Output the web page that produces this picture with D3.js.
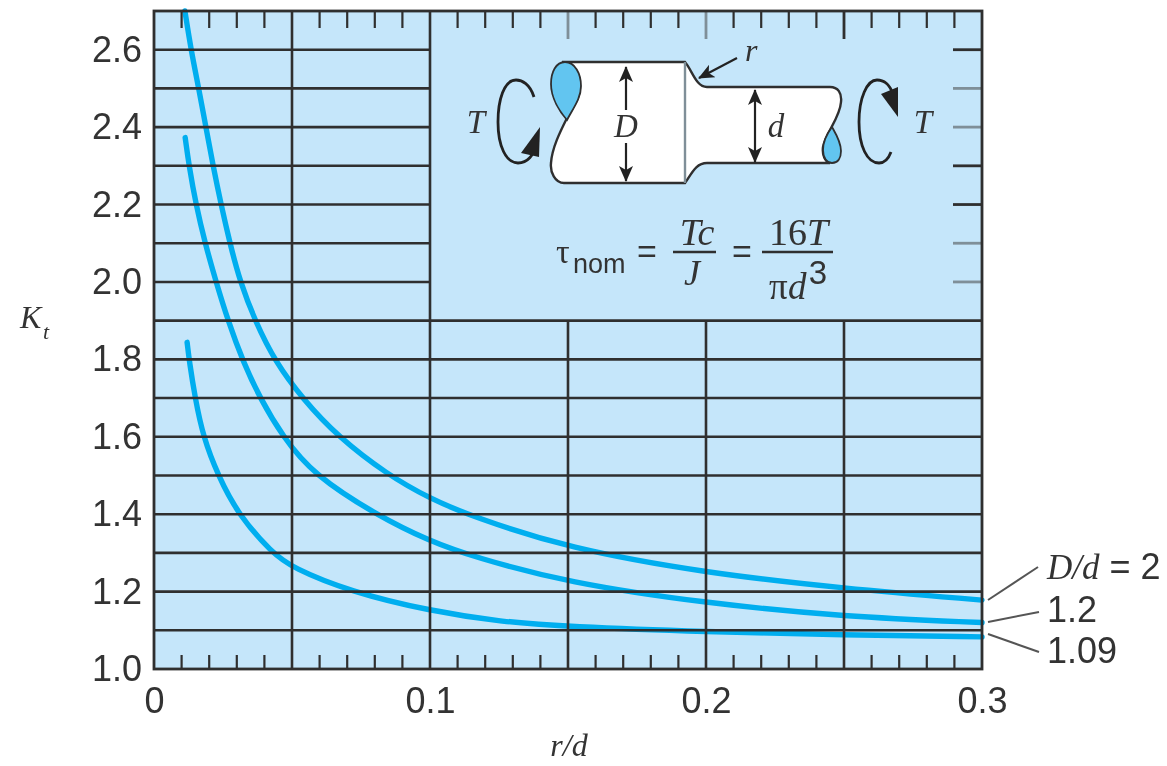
<!DOCTYPE html>
<html><head><meta charset="utf-8">
<script src="https://cdn.jsdelivr.net/npm/d3@7/dist/d3.min.js"></script>
<style>
html,body{margin:0;padding:0;background:#fff;overflow:hidden}
svg{display:block;filter:blur(0.7px)}
text{fill:#333}
.sans{font-family:"Liberation Sans",Arial,sans-serif}
.serif{font-family:"Liberation Serif",serif;font-style:italic}
</style></head><body>
<svg id="c" width="1167" height="766"></svg>
<script>
// Data: [r/d, Kt]
const curveD2 = [[.0112,2.70],[.0134,2.6],[.0163,2.497],[.0188,2.4],[.0214,2.3],[.0243,2.2],[.0275,2.1],[.0312,2.0],[.0366,1.9],[.0438,1.795],[.054,1.697],[.0667,1.6],[.0844,1.503],[.1,1.44],[.1156,1.393],[.15,1.312],[.2,1.248],[.25,1.208],[.3,1.178]];
const curve12 = [[.0113,2.373],[.0127,2.3],[.0152,2.2],[.0185,2.1],[.0225,2.0],[.0268,1.9],[.0322,1.795],[.0384,1.7],[.0467,1.6],[.0576,1.503],[.0808,1.397],[.1,1.33],[.1156,1.29],[.15,1.223],[.2,1.17],[.25,1.135],[.3,1.12]];
const curve109 = [[.012,1.844],[.0128,1.795],[.0149,1.7],[.0178,1.6],[.0232,1.5],[.0304,1.4],[.0428,1.3],[.05,1.262],[.071,1.2],[.1,1.15],[.1257,1.122],[.15,1.109],[.2,1.096],[.25,1.088],[.3,1.083]];
const seriesLabels = ["D/d = 2","1.2","1.09"];
const xTickLabels = [0,0.1,0.2,0.3];
const yTickLabels = [1.0,1.2,1.4,1.6,1.8,2.0,2.2,2.4,2.6];
const xMinor = [.01,.02,.03,.04,.06,.07,.08,.09,.11,.12,.13,.14,.16,.17,.18,.19,.21,.22,.23,.24,.26,.27,.28,.29];
const xMajorFull = [.05,.1];
const xMajorLow = [.15,.2,.25];
const yGridFull = [1.1,1.2,1.3,1.4,1.5,1.6,1.7,1.8,1.9];
const yGridShort = [2.0,2.1,2.2,2.3,2.4,2.5,2.6];
const topLong = [.15,.2,.25];
const rightTicks = [2.0,2.1,2.2,2.3,2.4,2.5,2.6];
const faintTop = [.15,.2];
const faintRight = [2.0,2.1,2.4,2.5];

const svg = d3.select("#c");
const x = d3.scaleLinear().domain([0,.3]).range([154,982]);
const y = d3.scaleLinear().domain([1,2.7]).range([669,11]);
const INK="#2f2f2f", FAINT="#7f8f98", BG="#c5e6fa", BLUE="#00aeef", LOBE="#62c5f0";

svg.append("rect").attr("x",x(0)).attr("y",y(2.7)).attr("width",x(.3)-x(0)).attr("height",y(1)-y(2.7)).attr("fill",BG);

const line = d3.line().x(d=>x(d[0])).y(d=>y(d[1])).curve(d3.curveBasis);
svg.append("g").attr("fill","none").attr("stroke",BLUE).attr("stroke-width",5.4).attr("stroke-linecap","round")
  .selectAll("path").data([curveD2,curve12,curve109]).join("path").attr("d",line);

const g = svg.append("g").attr("stroke",INK);
const hl=(data,x2)=>g.append("g").attr("stroke-width",2.6).selectAll("line").data(data).join("line")
  .attr("x1",x(0)).attr("x2",x2).attr("y1",y).attr("y2",y);
hl(yGridFull,x(.3)); hl(yGridShort,x(.1));
const vl=(data,y2,w)=>g.append("g").attr("stroke-width",w).selectAll("line").data(data).join("line")
  .attr("x1",x).attr("x2",x).attr("y1",y(1)).attr("y2",y2);
vl(xMajorFull,y(2.7),2.6); vl(xMajorLow,y(1.9),2.6);
g.append("g").attr("stroke-width",2.2).selectAll("line").data(xMinor).join("line")
  .attr("x1",x).attr("x2",x).attr("y1",y(1)).attr("y2",y(1)-14);
g.append("g").attr("stroke-width",2.2).selectAll("line").data(xMinor).join("line")
  .attr("x1",x).attr("x2",x).attr("y1",y(2.7)).attr("y2",y(2.7)+17);
g.append("g").attr("stroke-width",2.8).selectAll("line").data(topLong).join("line")
  .attr("x1",x).attr("x2",x).attr("y1",y(2.7)).attr("y2",y(2.7)+28)
  .attr("stroke",d=>faintTop.includes(d)?FAINT:INK);
g.append("g").attr("stroke-width",2.8).selectAll("line").data(rightTicks).join("line")
  .attr("x1",x(.3)-29).attr("x2",x(.3)).attr("y1",y).attr("y2",y)
  .attr("stroke",d=>faintRight.includes(d)?FAINT:INK);
g.append("rect").attr("x",x(0)).attr("y",y(2.7)).attr("width",x(.3)-x(0)).attr("height",y(1)-y(2.7))
  .attr("fill","none").attr("stroke-width",2.8);

// axis labels
const xa = svg.append("g").attr("transform",`translate(0,${y(1)})`)
  .call(d3.axisBottom(x).tickValues(xTickLabels).tickSize(0).tickPadding(18).tickFormat(d=>d===0?"0":d3.format(".1f")(d)));
const ya = svg.append("g").attr("transform",`translate(${x(0)},0)`)
  .call(d3.axisLeft(y).tickValues(yTickLabels).tickSize(0).tickPadding(12).tickFormat(d3.format(".1f")));
[xa,ya].forEach(a=>{a.select(".domain").remove();
  a.selectAll("text").attr("class","sans").attr("font-size",36).attr("fill","#3a3a3a").style("font-family",'"Liberation Sans"');});

const txt=(s,px,py,cls,size,anchor="start")=>svg.append("text").attr("class",cls).attr("x",px).attr("y",py)
  .attr("font-size",size).attr("text-anchor",anchor).text(s);

txt("K",20,328,"serif",32); txt("t",43,339,"serif",22);
txt("r/d",569,756,"serif",32,"middle");

// series labels with leaders
const l0 = svg.append("text").attr("x",1047).attr("y",579).attr("font-size",36).attr("class","sans");
l0.append("tspan").attr("class","serif").attr("font-size",35).text(seriesLabels[0].split(" = ")[0]);
l0.append("tspan").text(" = "+seriesLabels[0].split(" = ")[1]);
txt(seriesLabels[1],1047,622,"sans",36);
txt(seriesLabels[2],1047,663,"sans",36);
const leaders=[[.3,600,1038,567],[.3,622,1039,612],[.3,634,1039,652]];
svg.append("g").attr("stroke","#555").attr("stroke-width",2).selectAll("line").data(leaders).join("line")
  .attr("x1",d=>x(d[0])+6).attr("y1",d=>d[1]).attr("x2",d=>d[2]).attr("y2",d=>d[3]);

// shaft diagram
const dg = svg.append("g");
dg.append("path").attr("fill","#fff").attr("stroke",INK).attr("stroke-width",2.4)
  .attr("d","M562,62 L685,62 C692,70 696,87 707,87 L830,87 C838,87 842,93 841,102 C840,118 826,132 823,147 C822,155 825,162 830,163 L707,163 C696,163 692,173 685,183 L564,183 C555,183 550,172 551,163 C552,148 560,132 567,118 C574,105 580,98 580,88 C580,74 574,62 562,62 Z");
dg.append("path").attr("fill",LOBE).attr("stroke",INK).attr("stroke-width",1.8)
  .attr("d","M565,62 C556,62 551,72 551,84 C551,98 560,112 567,120 C574,107 581,98 581,86 C581,74 575,62 565,62 Z");
dg.append("path").attr("fill",LOBE).attr("stroke",INK).attr("stroke-width",1.8)
  .attr("d","M832,127 C826,135 823,142 823,150 C823,158 827,163 832,163 C838,163 841,158 841,151 C841,142 836,134 832,127 Z");
dg.append("line").attr("x1",685).attr("x2",685).attr("y1",62).attr("y2",183).attr("stroke",FAINT).attr("stroke-width",2.4);

dg.append("defs").append("marker").attr("id","ah").attr("viewBox","0 0 16 14").attr("refX",15).attr("refY",7)
  .attr("markerWidth",17).attr("markerHeight",14).attr("markerUnits","userSpaceOnUse").attr("orient","auto")
  .append("path").attr("d","M0,0 L16,7 L0,14 L4,7 Z").attr("fill","#222");
const arrow=(a,b,c,d)=>dg.append("line").attr("x1",a).attr("y1",b).attr("x2",c).attr("y2",d)
  .attr("stroke","#222").attr("stroke-width",2.2).attr("marker-end","url(#ah)");
arrow(626,110,626,67); arrow(626,143,626,181);
arrow(755,126,755,90); arrow(755,126,755,162);
arrow(737,58,699,78);
txt("r",745,61,"serif",32);
txt("D",626,137,"serif",33,"middle");
txt("d",776,137,"serif",33,"middle");
txt("T",476,133,"serif",33,"middle");
txt("T",923,133,"serif",33,"middle");

// torque arrows
dg.append("path").attr("fill","none").attr("stroke","#222").attr("stroke-width",2.8)
  .attr("d","M534,97 C530,84 522,80 516,80 C504,80 498,100 498,122 C498,146 506,163 518,163 C528,163 533,155 537,145");
dg.append("path").attr("fill","#222").attr("d","M540,127 L539,157 L521,153 Z");
dg.append("path").attr("fill","none").attr("stroke","#222").attr("stroke-width",2.8)
  .attr("d","M891,152 C888,160 884,163 879,163 C867,163 859,146 859,122 C859,98 867,80 877,80 C886,80 890,86 893,94");
dg.append("path").attr("fill","#222").attr("d","M898,117 L881,94 L898,87 Z");

// formula
txt("τ",556,263,"sans",34).style("font-family",'"Liberation Serif"');
txt("nom",573,273,"sans",27);
txt("=",647,263,"sans",34,"middle");
txt("Tc",697,245,"serif",38,"middle");
txt("J",692,285,"serif",36,"middle");
txt("=",742,263,"sans",34,"middle");
const f = txt("16",769,245,"serif",38,"start").style("font-style","normal");
f.append("tspan").style("font-style","italic").text("T");
txt("π",769,299,"serif",37,"start").style("font-style","normal");
txt("d",788,299,"serif",37,"start");
txt("3",818,284,"sans",33,"middle");
dg.append("g").attr("stroke",INK).attr("stroke-width",2.4).selectAll("line").data([[673,716],[762,833]]).join("line")
  .attr("x1",d=>d[0]).attr("x2",d=>d[1]).attr("y1",252).attr("y2",252);
</script>
</body></html>
